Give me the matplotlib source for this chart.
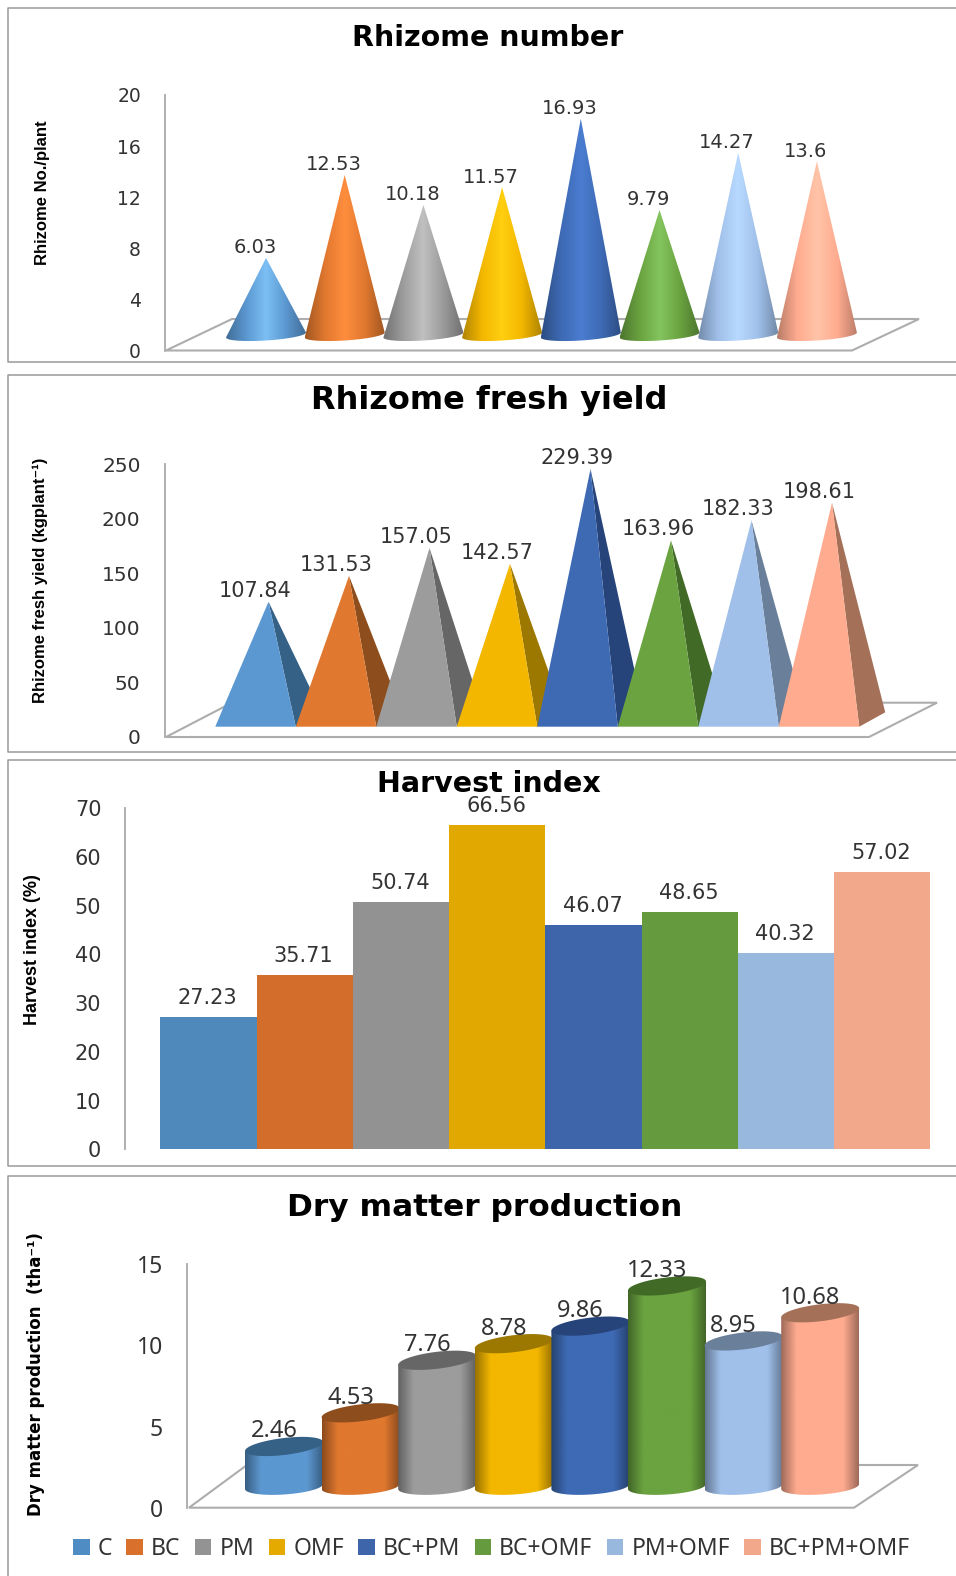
import numpy as np
import matplotlib
matplotlib.use("Agg")
import matplotlib.pyplot as plt
from matplotlib.colors import LinearSegmentedColormap, to_rgb
from matplotlib.patches import Polygon, Patch
from matplotlib.transforms import Affine2D

treatments = ["C", "BC", "PM", "OMF", "BC+PM", "BC+OMF", "PM+OMF", "BC+PM+OMF"]

rhizome_number = [6.03, 12.53, 10.18, 11.57, 16.93, 9.79, 14.27, 13.6]
rhizome_number_labels = ["6.03", "12.53", "10.18", "11.57", "16.93", "9.79", "14.27", "13.6"]
rhizome_number_ticks = [0, 4, 8, 12, 16, 20]

fresh_yield = [107.84, 131.53, 157.05, 142.57, 229.39, 163.96, 182.33, 198.61]
fresh_yield_labels = ["107.84", "131.53", "157.05", "142.57", "229.39", "163.96", "182.33", "198.61"]
fresh_yield_ticks = [0, 50, 100, 150, 200, 250]

harvest_index = [27.23, 35.71, 50.74, 66.56, 46.07, 48.65, 40.32, 57.02]
harvest_index_labels = ["27.23", "35.71", "50.74", "66.56", "46.07", "48.65", "40.32", "57.02"]
harvest_index_ticks = [0, 10, 20, 30, 40, 50, 60, 70]

dry_matter = [2.46, 4.53, 7.76, 8.78, 9.86, 12.33, 8.95, 10.68]
dry_matter_labels = ["2.46", "4.53", "7.76", "8.78", "9.86", "12.33", "8.95", "10.68"]
dry_matter_ticks = [0, 5, 10, 15]

base_colors = ["#5b97d0", "#e0782f", "#9c9c9c", "#f3b700", "#3e6ab4", "#6aa340", "#a0c0ea", "#ffab8f"]
side_colors = ["#356186", "#8e4d1c", "#666666", "#9c7800", "#26437a", "#426a27", "#6a7f9a", "#a57058"]
light_colors = ["#7cc0f4", "#ff8d3e", "#c0c0c0", "#ffcf10", "#4a7cd0", "#84c45e", "#b8d9ff", "#ffc4a8"]
flat_colors = ["#4f88bb", "#d26d2b", "#929292", "#e0a800", "#3e64a9", "#659a3f", "#98b8de", "#f2a88a"]
legend_colors = ["#4f8cc4", "#d9702c", "#939393", "#e5aa00", "#3e64a9", "#659a3f", "#98b8de", "#f2a88a"]

W, H = 956, 1576
GRAY = "#a9a9a9"
TXT = "#333333"
NARROW = ["Liberation Sans", "DejaVu Sans"]

plt.rcParams["font.family"] = ["DejaVu Sans"]

fig = plt.figure(figsize=(W / 100, H / 100), dpi=100, facecolor="white")

# pixel coordinates from the top left corner, used for frames, floors and titles
PX = Affine2D().scale(1, -1).translate(0, H)


def shade(color, k):
    return tuple(c * k for c in to_rgb(color))


def frame(top, bottom=None):
    y1 = H + 5 if bottom is None else bottom
    xs = [W + 5, 8.4, 8.4, W + 5]
    ys = [top, top, y1, y1]
    fig.add_artist(plt.Line2D(xs, ys, color="#9a9a9a", lw=1.1, transform=PX))


def make_axes(left, right, top, zero, ymax, ticks, first, step, fontsize, family="DejaVu Sans", pad=24):
    ax = fig.add_axes([left / W, 1 - zero / H, (right - left) / W, (zero - top) / H])
    ax.patch.set_alpha(0)
    ax.set_xlim((left - first) / step, (right - first) / step)
    ax.set_ylim(0, ymax)
    for s in ["top", "right", "bottom"]:
        ax.spines[s].set_visible(False)
    ax.spines["left"].set_color(GRAY)
    ax.spines["left"].set_linewidth(1.3)
    ax.set_xticks([])
    ax.set_yticks(ticks)
    ax.tick_params(axis="y", length=0, pad=pad * 0.72, labelsize=fontsize, labelcolor=TXT)
    for t in ax.get_yticklabels():
        t.set_family(family)
    return ax


def floor(ax, corners):
    ax.add_patch(Polygon(corners, closed=True, facecolor="white", edgecolor="#adadad",
                         lw=1.5, transform=PX, zorder=1, clip_on=False))


def gradient_fill(ax, poly, xl, xr, ybot, ytop, colors, stops, z):
    cmap = LinearSegmentedColormap.from_list("g", list(zip(stops, colors)))
    xlim, ylim = ax.get_xlim(), ax.get_ylim()
    im = ax.imshow(np.linspace(0, 1, 256).reshape(1, -1), extent=[xl, xr, ybot, ytop], aspect="auto",
                   cmap=cmap, vmin=0, vmax=1, interpolation="bilinear", zorder=z)
    patch = Polygon(poly, closed=True, transform=ax.transData, facecolor="none", edgecolor="none")
    ax.add_patch(patch)
    im.set_clip_path(patch)
    ax.set_xlim(xlim)
    ax.set_ylim(ylim)


def bar_labels(ax, xs, ys, labels, dx, dy, fontsize, family="DejaVu Sans"):
    for x, y, lab in zip(xs, ys, labels):
        ax.annotate(lab, (x, y), xytext=(dx * 0.72, dy * 0.72), textcoords="offset points",
                    ha="center", va="center", fontsize=fontsize, color=TXT, family=family,
                    zorder=50, annotation_clip=False)


def title(text, x, y, size, family="DejaVu Sans"):
    fig.text(x, y, text, transform=PX, ha="center", va="center", fontsize=size,
             fontweight="bold", color="black", family=family)


def ylabel(text, x, y, size, family=NARROW, weight="bold"):
    fig.text(x, y, text, transform=PX, rotation=90, ha="center", va="center", fontsize=size,
             fontweight=weight, color="black", family=family)


# ---- Rhizome number: cones
frame(7.5, 362)
title("Rhizome number", 488, 38, 20.5)
ylabel("Rhizome No./plant", 43, 193, 12)
ax1 = make_axes(165, 940, 95, 350.5, 20, rhizome_number_ticks, 266, 78.7, 13.5)
floor(ax1, [(166, 350.5), (232, 319), (919, 319), (852, 350.5)])
upx1 = 255.5 / 20
base1 = 15.5 / upx1
r1 = 40 / 78.7
t = np.linspace(np.pi, 2 * np.pi, 40)
for i, v in enumerate(rhizome_number):
    xb = i + r1 * np.cos(t)
    yb = base1 + (2.5 / upx1) * np.cos(t) + (5.5 / upx1) * np.sin(t)
    poly = [(i, v + base1)] + list(zip(xb, yb))
    edge = shade(base_colors[i], 0.72)
    gradient_fill(ax1, poly, i - r1, i + r1, 0, v + base1,
                  [edge, base_colors[i], light_colors[i], base_colors[i], edge],
                  [0, 0.25, 0.5, 0.75, 1], 10 + i)
bar_labels(ax1, range(8), np.array(rhizome_number) + base1, rhizome_number_labels, -11, 10, 14)

# ---- Rhizome fresh yield: pyramids
frame(374.5, 751.5)
title("Rhizome fresh yield", 489, 400, 23)
ylabel("Rhizome fresh yield (kgplant⁻¹)", 40, 580, 12)
ax2 = make_axes(164.6, 945, 464, 737, 250, fresh_yield_ticks, 255.5, 80.5, 14.5)
floor(ax2, [(166, 737), (232, 702.7), (937, 702.7), (869, 737)])
upx2 = 273 / 250
front2 = 10.3 / upx2
back2 = 24.7 / upx2
apex2 = 17.5 / upx2
r2 = 0.5
depth2 = 26 / 80.5
for i, v in enumerate(fresh_yield):
    tip = (i + depth2 / 2, v + apex2)
    ax2.add_patch(Polygon([(i + r2, front2), (i + r2 + depth2, back2), tip], closed=True,
                          facecolor=side_colors[i], edgecolor="none", zorder=10 + i))
    ax2.add_patch(Polygon([(i - r2, front2), (i + r2, front2), tip], closed=True,
                          facecolor=base_colors[i], edgecolor="none", zorder=10 + i))
bar_labels(ax2, np.arange(8) + depth2 / 2, np.array(fresh_yield) + apex2, fresh_yield_labels, -13, 11, 15)

# ---- Harvest index: flat bars
frame(760.3, 1166.3)
title("Harvest index", 489, 784.5, 20.5)
ylabel("Harvest index (%)", 33, 950, 13)
ax3 = make_axes(125.3, 940, 808.4, 1149.3, 70, harvest_index_ticks, 208.4, 96.25, 15)
ax3.bar(range(8), harvest_index, width=1.0, color=flat_colors, edgecolor="none", zorder=5)
bar_labels(ax3, range(8), harvest_index, harvest_index_labels, -1, 19, 15)

# ---- Dry matter production: cylinders
frame(1175.7)
title("Dry matter production", 485, 1208, 22.5)
ylabel("Dry matter production  (tha⁻¹)", 36, 1374, 12, family=["DejaVu Sans"])
ax4 = make_axes(187, 945, 1264, 1508, 15, dry_matter_ticks, 284, 76.6, 16.5, family="Noto Sans")
floor(ax4, [(189, 1507.7), (247, 1465), (918, 1465), (854, 1507.7)])
upx4 = 244 / 15
base4 = 21.5 / upx4
r4 = 39 / 76.6
tilt4 = 4.5 / upx4
a4 = np.linspace(0, 2 * np.pi, 80)
t4 = np.linspace(np.pi, 2 * np.pi, 40)
for i, v in enumerate(dry_matter):
    lo_x = i + r4 * np.cos(t4)
    lo_y = base4 + (2.5 / upx4) * np.cos(t4) + (8 / upx4) * np.sin(t4)
    top = v + base4
    poly = list(zip(lo_x, lo_y)) + [(i + r4, top + tilt4), (i - r4, top - tilt4)]
    edge = shade(base_colors[i], 0.62)
    gradient_fill(ax4, poly, i - r4, i + r4, 0, top + 1,
                  [edge, base_colors[i], base_colors[i], edge], [0, 0.2, 0.8, 1], 10 + i)
    ell_x = i + r4 * np.cos(a4)
    ell_y = top + tilt4 * np.cos(a4) + (8.5 / upx4) * np.sin(a4)
    ax4.add_patch(Polygon(list(zip(ell_x, ell_y)), closed=True, facecolor=side_colors[i],
                          edgecolor="none", zorder=10 + i))
bar_labels(ax4, range(8), np.array(dry_matter) + base4, dry_matter_labels, -10, 15, 17, family="Noto Sans")

handles = [Patch(facecolor=c, edgecolor="none") for c in legend_colors]
fig.legend(handles, treatments, loc="center left", bbox_to_anchor=(73, 1549), bbox_transform=PX,
           ncol=8, frameon=False, borderpad=0, borderaxespad=0,
           handlelength=0.72, handleheight=0.72, handletextpad=0.35, columnspacing=0.63,
           labelcolor=TXT, prop={"family": "Noto Sans", "size": 16.5})

fig.savefig("out.png", dpi=100)
